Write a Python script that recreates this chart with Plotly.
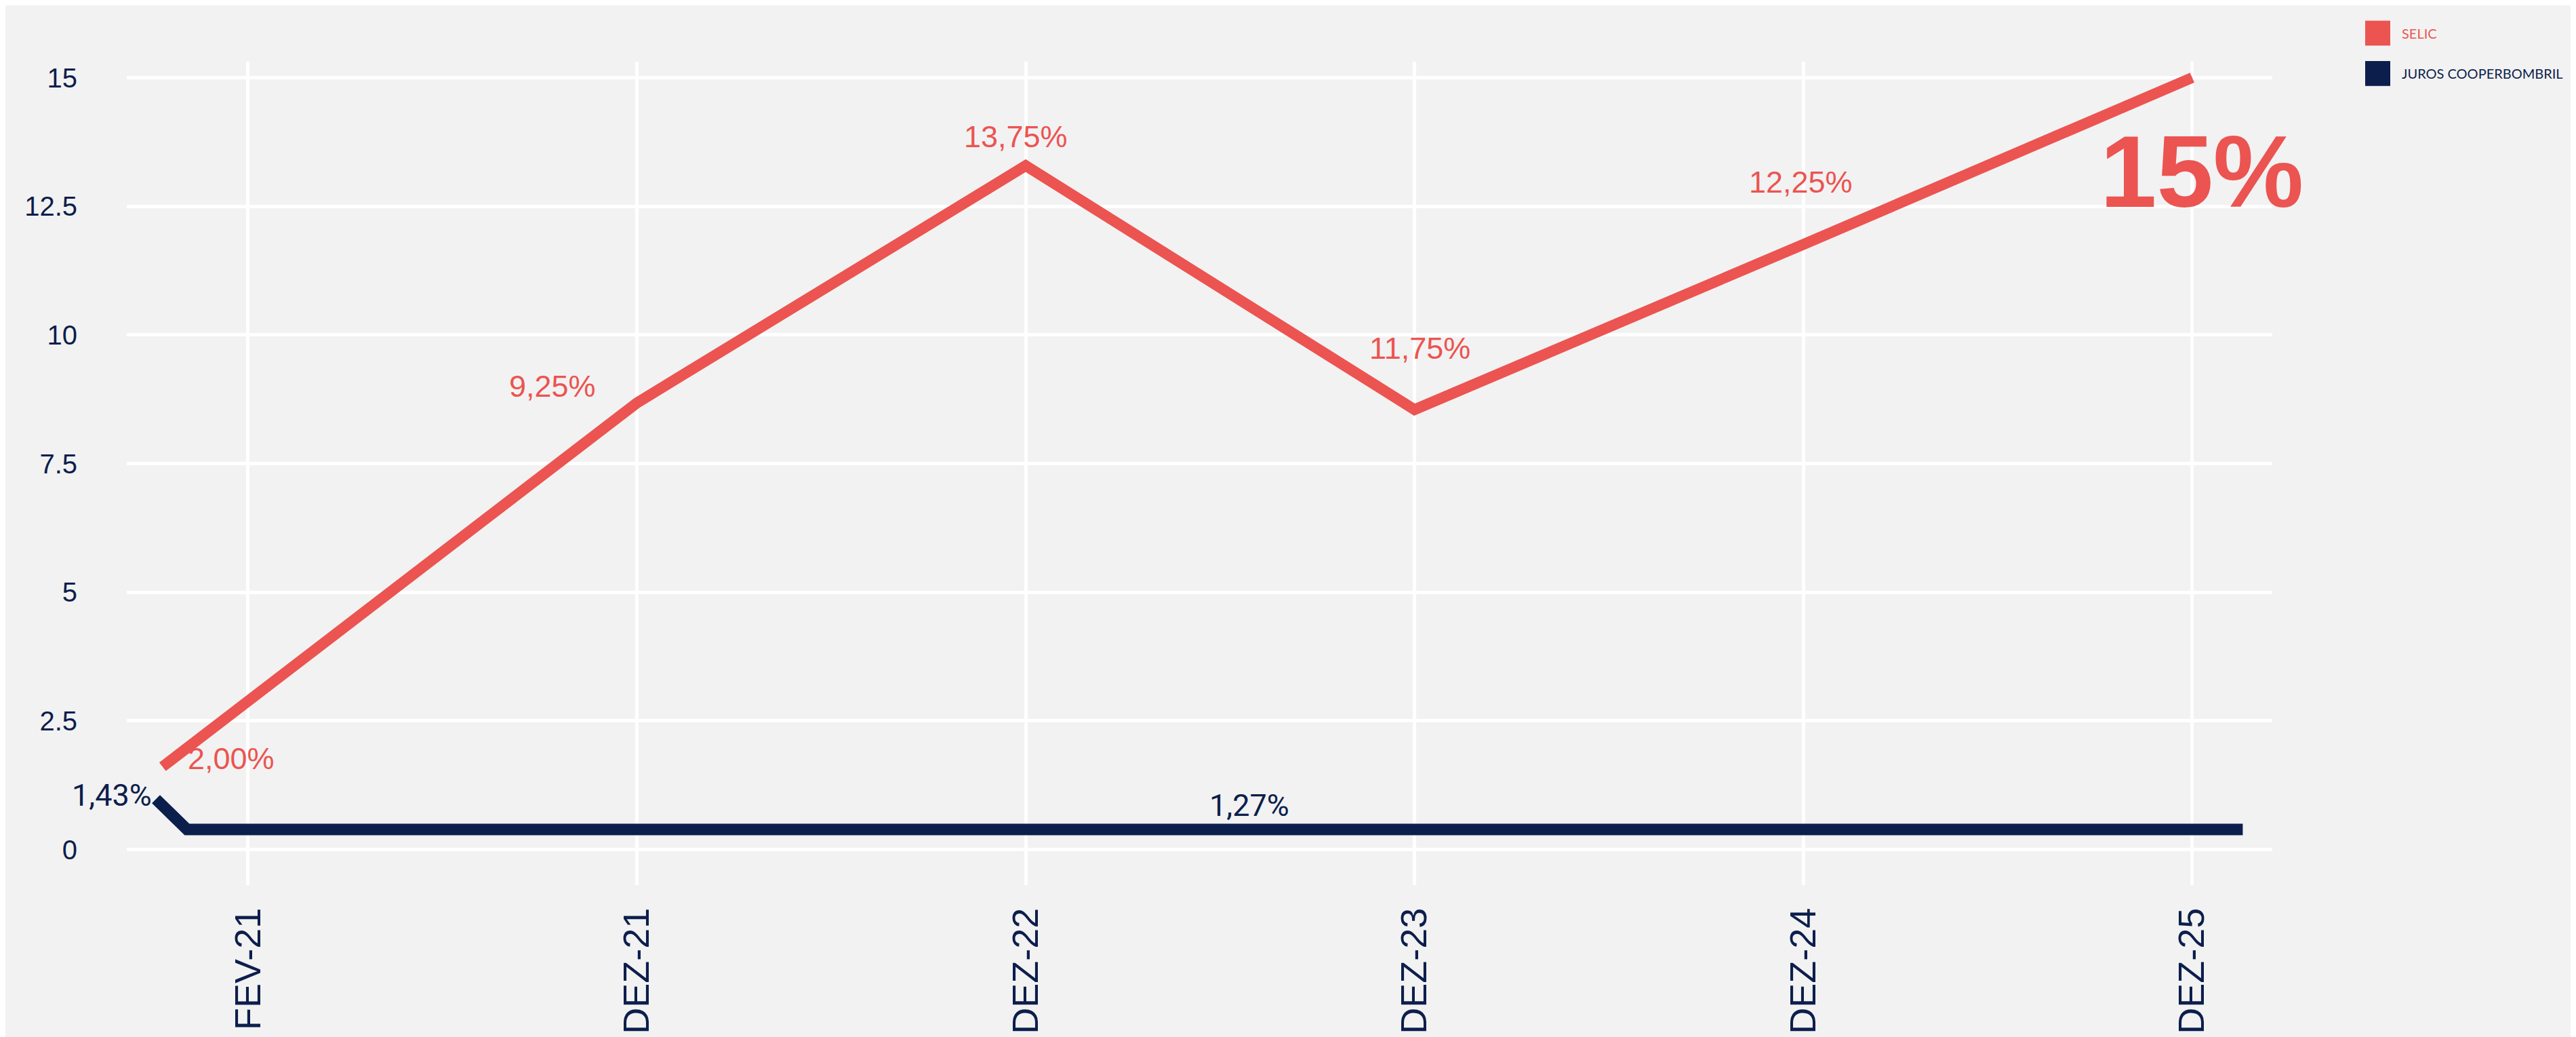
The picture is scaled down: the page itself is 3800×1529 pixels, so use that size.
import plotly.graph_objects as go

# --- data ---
tick_pos = [0, 1, 2, 3, 4, 5]
tick_labels = ['FEV-21', 'DEZ-21', 'DEZ-22', 'DEZ-23', 'DEZ-24', 'DEZ-25']

selic_x = [-0.22, 1, 2, 3, 4, 5]
selic_y = [1.61, 8.68, 13.29, 8.55, 11.76, 15.0]

coop_x = [-0.237, -0.157, 5.13]
coop_y = [0.98, 0.39, 0.39]

selic_lbl = ['2,00%', '9,25%', '13,75%', '11,75%', '12,25%']
selic_lbl_x = [-0.044, 0.783, 1.974, 3.014, 3.994]
selic_lbl_y = [1.77, 9.0, 13.86, 9.74, 12.97]

coop_lbl = ['1,43%', '1,27%']
coop_lbl_x = [-0.237, 2.575]
coop_lbl_y = [1.05, 0.86]
coop_lbl_anchor = ['right', 'center']

y_ticks = [0, 2.5, 5, 7.5, 10, 12.5, 15]
y_ticktext = ['0', '2.5', '5', '7.5', '10', '12.5', '15']

RED = '#EB5451'
NAVY = '#0C1E4C'
BG = '#F2F2F2'

W, H = 3800, 1529
L, R, T, B = 179, 456, 83, 223

fig = go.Figure()

fig.add_trace(go.Scatter(
    x=selic_x, y=selic_y, mode='lines', name='SELIC',
    line=dict(color=RED, width=16), showlegend=False
))
fig.add_trace(go.Scatter(
    x=coop_x, y=coop_y, mode='lines', name='JUROS COOPERBOMBRIL',
    line=dict(color=NAVY, width=17), showlegend=False
))

# value labels
for t, x, y in zip(selic_lbl, selic_lbl_x, selic_lbl_y):
    fig.add_annotation(x=x, y=y, text=t, showarrow=False,
                       font=dict(family='Liberation Sans', size=45, color=RED))
for t, x, y, a in zip(coop_lbl, coop_lbl_x, coop_lbl_y, coop_lbl_anchor):
    fig.add_annotation(x=x, y=y, text=t, showarrow=False, xanchor=a,
                       xshift=-4 if a == 'right' else 0,
                       font=dict(family='Roboto', size=45, color=NAVY))

# big final value
fig.add_annotation(x=5.024, y=13.17, text='<b>15%</b>', showarrow=False,
                   font=dict(family='Liberation Sans', size=150, color=RED))

# hand-drawn legend (square swatches)
pw = W - L - R
ph = H - T - B
def px_x(p):
    return (p - L) / pw
def px_y(p):
    return (H - B - p) / ph

legend_items = [('SELIC', RED, 22), ('JUROS COOPERBOMBRIL', NAVY, 82)]
for name, col, top in legend_items:
    fig.add_shape(type='rect', xref='paper', yref='paper',
                  x0=px_x(3481), x1=px_x(3518), y0=px_y(top + 37), y1=px_y(top),
                  fillcolor=col, line=dict(width=0))
    fig.add_annotation(xref='paper', yref='paper', x=px_x(3533), y=px_y(top + 18.5),
                       xanchor='left', yanchor='middle', text=name, showarrow=False,
                       font=dict(family='Lato', size=20, color=col))

fig.update_layout(
    width=W, height=H,
    paper_bgcolor=BG, plot_bgcolor=BG,
    margin=dict(l=L, r=R, t=T, b=B),
    showlegend=False,
    font=dict(family='Liberation Sans', color=NAVY),
    xaxis=dict(
        range=[-0.312, 5.206], tickvals=tick_pos, ticktext=tick_labels,
        tickangle=-90, showgrid=True, gridcolor='white', gridwidth=5,
        zeroline=False, showline=False, ticks='', ticklabelstandoff=22,
        tickfont=dict(family='Liberation Sans', size=54, color=NAVY)
    ),
    yaxis=dict(
        range=[-0.69, 15.31], tickvals=y_ticks, ticktext=y_ticktext,
        showgrid=True, gridcolor='white', gridwidth=5,
        zeroline=False, showline=False, ticks='', ticklabelstandoff=72,
        tickfont=dict(family='Liberation Sans', size=40, color=NAVY)
    ),
)

fig.write_html('out.html')
